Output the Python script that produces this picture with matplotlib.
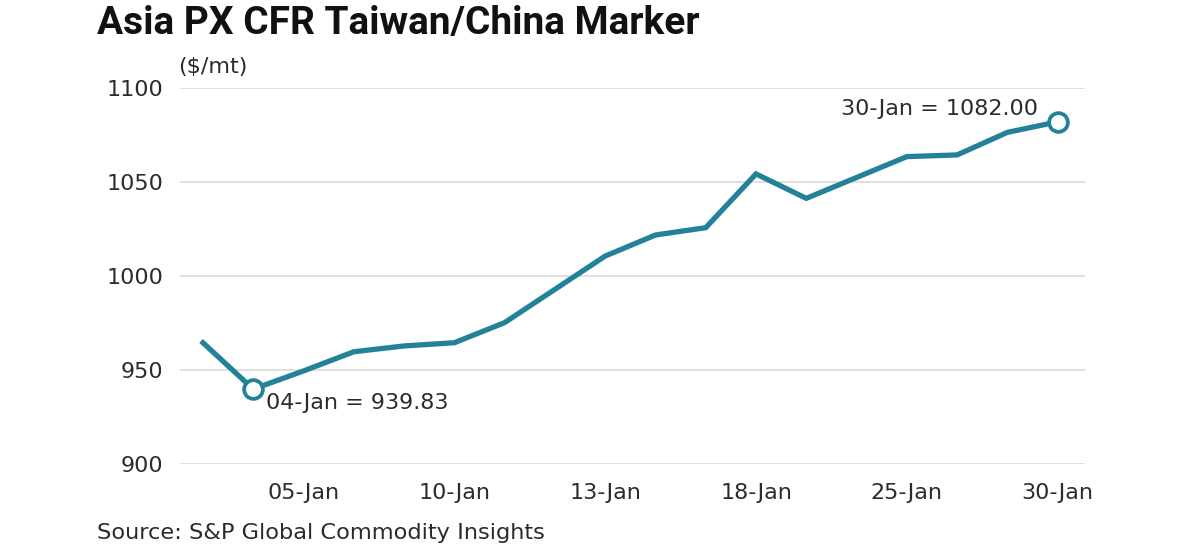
import numpy as np
import matplotlib.pyplot as plt

# trading days, Jan
dates = ['03-Jan', '04-Jan', '05-Jan', '06-Jan', '09-Jan', '10-Jan', '11-Jan', '12-Jan', '13-Jan',
         '16-Jan', '17-Jan', '18-Jan', '19-Jan', '20-Jan', '25-Jan', '26-Jan', '27-Jan', '30-Jan']
prices = [964.5, 939.83, 949.5, 959.7, 962.8, 964.5, 975.2, 992.9, 1010.6,
          1021.8, 1025.7, 1054.3, 1041.3, 1052.4, 1063.5, 1064.4, 1076.4, 1082.00]
tick_labels = ['05-Jan', '10-Jan', '13-Jan', '18-Jan', '25-Jan', '30-Jan']
y_ticks = [900, 950, 1000, 1050, 1100]

line_col = '#23829a'
txt_col = '#2b2b2b'
fnt = 'DejaVu Sans'

fig = plt.figure(figsize=(12, 5.53), dpi=100)
ax = fig.add_axes([0.15, 1 - 464 / 553, 0.754, (464 - 88) / 553])

x = np.arange(len(dates))
ax.plot(x, prices, color=line_col, lw=3.8, solid_joinstyle='miter', zorder=3)

# highlighted points: the low and the last
lo = int(np.argmin(prices))
hi = len(prices) - 1
for i in (lo, hi):
    ax.plot(x[i], prices[i], 'o', ms=13.5, mfc='white', mec=line_col, mew=2.7, zorder=4)

ax.annotate(f'{dates[lo]} = {prices[lo]:.2f}', (x[lo], prices[lo]), xytext=(9, -10),
            textcoords='offset points', ha='left', va='center', fontsize=16,
            family=fnt, color=txt_col)
ax.annotate(f'{dates[hi]} = {prices[hi]:.2f}', (x[hi], prices[hi]), xytext=(-14, 9),
            textcoords='offset points', ha='right', va='center', fontsize=16,
            family=fnt, color=txt_col)

ax.set_xlim(-0.457, 17.54)
ax.set_ylim(900, 1100)
ax.set_yticks(y_ticks)
ax.set_xticks([dates.index(t) for t in tick_labels])
ax.set_xticklabels(tick_labels)
ax.grid(axis='y', color='#dcdcdc', lw=1.3)
ax.set_axisbelow(True)
for s in ax.spines.values():
    s.set_visible(False)
ax.tick_params(length=0, labelsize=16, labelcolor=txt_col, pad=12)
ax.tick_params(axis='x', pad=14)
for lab in ax.get_xticklabels() + ax.get_yticklabels():
    lab.set_family(fnt)

fig.text(97 / 1200, 1 - 24 / 553, 'Asia PX CFR Taiwan/China Marker', fontsize=28,
         fontweight='bold', family='Roboto', color='#111111', va='center')
fig.text(178 / 1200, 1 - 67 / 553, '($/mt)', fontsize=16, family=fnt,
         color=txt_col, va='center')
fig.text(97 / 1200, 1 - 533 / 553, 'Source: S&P Global Commodity Insights', fontsize=16.2,
         family=fnt, color=txt_col, va='center')

fig.savefig('out.png', dpi=100)
